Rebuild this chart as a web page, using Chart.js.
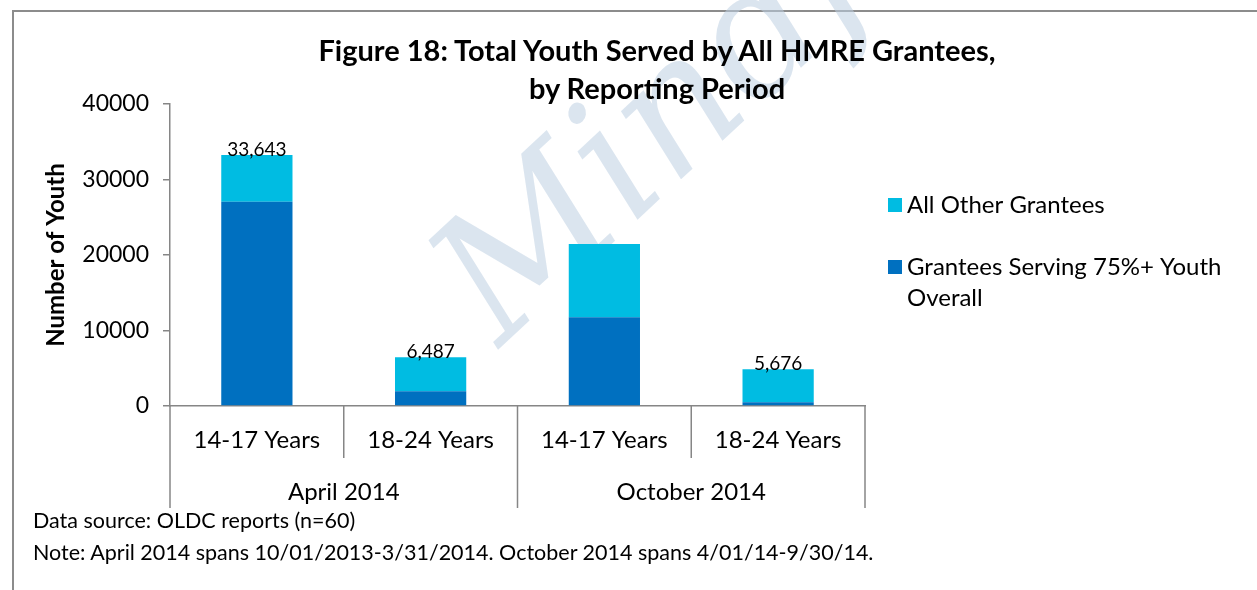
<!DOCTYPE html>
<html>
<head>
<meta charset="utf-8">
<script src="https://cdn.jsdelivr.net/npm/chart.js@4.4.1/dist/chart.umd.min.js"></script>
<style>
  html, body { margin: 0; padding: 0; background: #fff; }
  body { width: 1257px; height: 590px; position: relative; overflow: hidden; font-family: Lato, "Liberation Sans", sans-serif; }
  #frame { position: absolute; left: 12px; top: 10px; right: -10px; bottom: -10px; border-left: 2px solid #8c8c8c; border-top: 2px solid #8c8c8c; }
  #wrap { position: absolute; left: 0; top: 0; width: 1257px; height: 590px; }
  .title { position: absolute; left: 657px; transform: translateX(-50%); white-space: nowrap; font-weight: bold; font-size: 29px; color: #000; }
  .note { position: absolute; left: 33px; font-size: 21.5px; color: #000; white-space: nowrap; }
</style>
</head>
<body>
<div id="frame"></div>
<div id="wrap"><canvas id="chart" width="1257" height="590"></canvas></div>
<div class="title" style="top:32px">Figure 18: Total Youth Served by All HMRE Grantees,</div>
<div class="title" style="top:70px">by Reporting Period</div>
<div class="note" style="top:507px">Data source: OLDC reports (n=60)</div>
<div class="note" style="top:539px">Note: April 2014 spans 10/01/2013-3/31/2014. October 2014 spans 4/01/14-9/30/14.</div>
<script>
// categories (age group within reporting period)
const ageGroups = ['14-17 Years', '18-24 Years', '14-17 Years', '18-24 Years'];
const periods = ['April 2014', 'October 2014'];
const periodSpan = 2; // age groups per period

// series values
const youthServing = [27050, 1950, 11750, 490];
const allOther = [6200, 4510, 9700, 4380];

// total labels printed above bars (third one hidden in source)
const totalLabels = ['33,643', '6,487', '', '5,676'];

const darkBlue = '#0070C0';
const lightBlue = '#00BCE2';
const axisGrey = '#868686';
const fontFam = 'Lato, "Liberation Sans", sans-serif';

// faint watermark behind the bars
const watermarkPlugin = {
    id: 'watermark',
    beforeDatasetsDraw(chart) {
        const ctx = chart.ctx;
        ctx.save();
        ctx.translate(500, 348);
        ctx.rotate(-0.75);
        ctx.font = 'italic 175px "DejaVu Serif", serif';
        ctx.fillStyle = 'rgba(190, 208, 225, 0.55)';
        ctx.fillText('Mindful', 0, 0);
        ctx.restore();
    }
};

// draws the stack totals, the category separators, group row and legend
const extrasPlugin = {
    id: 'extras',
    afterDatasetsDraw(chart) {
        const ctx = chart.ctx;
        const x = chart.scales.x;
        const area = chart.chartArea;
        const n = ageGroups.length;

        // totals
        ctx.save();
        ctx.font = '19px ' + fontFam;
        ctx.fillStyle = '#000';
        ctx.textAlign = 'center';
        ctx.textBaseline = 'bottom';
        const topMeta = chart.getDatasetMeta(1);
        for (let i = 0; i < n; i++) {
            if (!totalLabels[i]) continue;
            const bar = topMeta.data[i];
            ctx.fillText(totalLabels[i], bar.x, bar.y + 4);
        }
        ctx.restore();

        // separators below the x axis
        ctx.save();
        ctx.strokeStyle = axisGrey;
        ctx.lineWidth = 1.5;
        const half = (x.getPixelForValue(1) - x.getPixelForValue(0)) / 2;
        for (let i = 0; i <= n; i++) {
            const px = i < n ? x.getPixelForValue(i) - half : x.getPixelForValue(n - 1) + half;
            const long = i % periodSpan === 0;
            ctx.beginPath();
            ctx.moveTo(px, area.bottom);
            ctx.lineTo(px, area.bottom + (long ? 102 : 52));
            ctx.stroke();
        }
        ctx.restore();

        // period row
        ctx.save();
        ctx.font = '24px ' + fontFam;
        ctx.fillStyle = '#000';
        ctx.textAlign = 'center';
        ctx.textBaseline = 'middle';
        periods.forEach((p, g) => {
            const a = x.getPixelForValue(g * periodSpan);
            const b = x.getPixelForValue(g * periodSpan + periodSpan - 1);
            ctx.fillText(p, (a + b) / 2, area.bottom + 86);
        });
        ctx.restore();

        // legend on the right, reversed order, wrapped text
        ctx.save();
        ctx.font = '24px ' + fontFam;
        ctx.fillStyle = '#000';
        ctx.textBaseline = 'middle';
        const lx = area.right + 23;
        const maxW = 335;
        let ly = 205;
        const items = chart.data.datasets.slice().reverse();
        items.forEach(ds => {
            const words = ds.label.split(' ');
            const lines = [];
            let cur = '';
            words.forEach(w => {
                const t = cur ? cur + ' ' + w : w;
                if (ctx.measureText(t).width > maxW && cur) {
                    lines.push(cur);
                    cur = w;
                } else {
                    cur = t;
                }
            });
            lines.push(cur);
            ctx.fillStyle = ds.backgroundColor;
            ctx.fillRect(lx, ly - 7, 14, 14);
            ctx.fillStyle = '#000';
            lines.forEach((ln, k) => ctx.fillText(ln, lx + 19, ly + k * 31));
            ly += 62;
        });
        ctx.restore();
    }
};

new Chart(document.getElementById('chart'), {
    type: 'bar',
    data: {
        labels: ageGroups,
        datasets: [
            {
                label: 'Grantees Serving 75%+ Youth Overall',
                data: youthServing,
                backgroundColor: darkBlue,
                barPercentage: 0.41,
                categoryPercentage: 1.0
            },
            {
                label: 'All Other Grantees',
                data: allOther,
                backgroundColor: lightBlue,
                barPercentage: 0.41,
                categoryPercentage: 1.0
            }
        ]
    },
    options: {
        responsive: false,
        animation: false,
        layout: { padding: { left: 42, top: 104, right: 392, bottom: 74 } },
        plugins: {
            legend: { display: false },
            title: { display: false },
            tooltip: { enabled: false }
        },
        scales: {
            x: {
                stacked: true,
                afterFit: s => { s.height = 110; },
                grid: { display: false, drawTicks: false },
                border: { display: true, color: axisGrey, width: 1.5 },
                ticks: { color: '#000', padding: 20, font: { family: fontFam, size: 24 }, maxRotation: 0 }
            },
            y: {
                stacked: true,
                min: 0,
                max: 40000,
                afterFit: s => { s.width = 128; },
                grid: { drawOnChartArea: false, drawTicks: true, tickLength: 7, color: axisGrey, lineWidth: 1.5 },
                border: { display: true, color: axisGrey, width: 1.5 },
                ticks: {
                    stepSize: 10000,
                    color: '#000',
                    padding: 14,
                    font: { family: fontFam, size: 23 },
                    callback: v => String(v)
                },
                title: {
                    display: true,
                    text: 'Number of Youth',
                    color: '#000',
                    font: { family: fontFam, size: 24, weight: 'bold' },
                    padding: 0
                }
            }
        }
    },
    plugins: [watermarkPlugin, extrasPlugin]
});
</script>
</body>
</html>
